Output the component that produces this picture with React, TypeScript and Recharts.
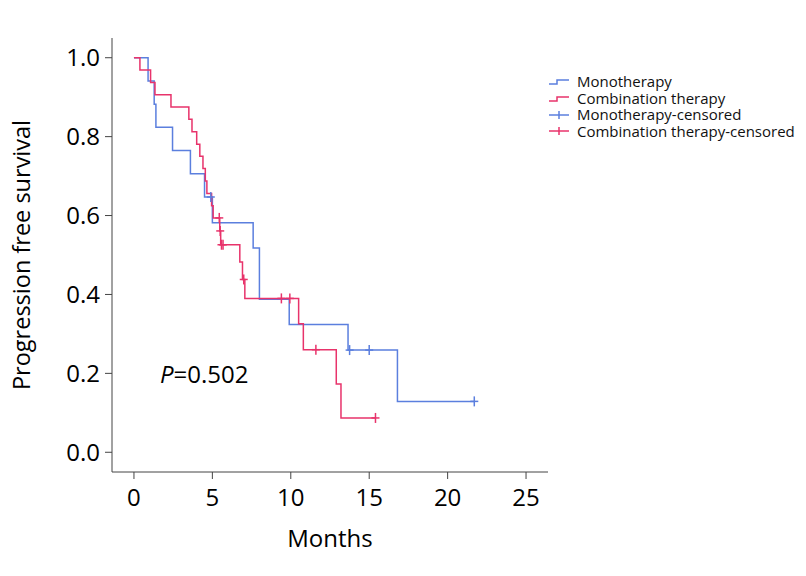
import React from 'react';
import { ComposedChart, Line, Scatter, XAxis, YAxis, Legend } from 'recharts';

// Kaplan-Meier steps (months, survival)
const monoCurve = [
  { t: 0, s: 1 },
  { t: 0.9, s: 0.941 },
  { t: 1.29, s: 0.882 },
  { t: 1.4, s: 0.824 },
  { t: 2.46, s: 0.765 },
  { t: 3.6, s: 0.706 },
  { t: 4.5, s: 0.647 },
  { t: 5.0, s: 0.582 },
  { t: 7.6, s: 0.518 },
  { t: 8.0, s: 0.388 },
  { t: 9.9, s: 0.324 },
  { t: 13.65, s: 0.259 },
  { t: 16.8, s: 0.129 },
  { t: 21.7, s: 0.129 },
];

const comboCurve = [
  { t: 0, s: 1 },
  { t: 0.38, s: 0.969 },
  { t: 1.06, s: 0.9375 },
  { t: 1.34, s: 0.906 },
  { t: 2.36, s: 0.875 },
  { t: 3.5, s: 0.844 },
  { t: 3.7, s: 0.8125 },
  { t: 4.0, s: 0.781 },
  { t: 4.2, s: 0.75 },
  { t: 4.4, s: 0.719 },
  { t: 4.55, s: 0.6875 },
  { t: 4.65, s: 0.656 },
  { t: 4.95, s: 0.625 },
  { t: 5.05, s: 0.594 },
  { t: 5.47, s: 0.561 },
  { t: 5.53, s: 0.526 },
  { t: 6.75, s: 0.482 },
  { t: 6.92, s: 0.438 },
  { t: 7.07, s: 0.39 },
  { t: 10.5, s: 0.326 },
  { t: 10.8, s: 0.26 },
  { t: 12.9, s: 0.173 },
  { t: 13.2, s: 0.087 },
  { t: 15.4, s: 0.087 },
];

const monoCensored = [
  { t: 4.9, s: 0.647 },
  { t: 13.75, s: 0.259 },
  { t: 15.0, s: 0.259 },
  { t: 21.7, s: 0.129 },
];

const comboCensored = [
  { t: 5.44, s: 0.594 },
  { t: 5.5, s: 0.561 },
  { t: 5.58, s: 0.526 },
  { t: 5.68, s: 0.526 },
  { t: 7.0, s: 0.438 },
  { t: 9.4, s: 0.39 },
  { t: 9.94, s: 0.39 },
  { t: 11.6, s: 0.26 },
  { t: 15.4, s: 0.087 },
];

const xTicks = [0, 5, 10, 15, 20, 25];
const yTicks = [0, 0.2, 0.4, 0.6, 0.8, 1.0];
const legendLabels = ['Monotherapy', 'Combination therapy', 'Monotherapy-censored', 'Combination therapy-censored'];
const pValue = '0.502';

const BLUE = '#5b7fde';
const RED = '#e8336b';
const FONT = '"Open Sans", sans-serif';

const censorShape = (color: string) => (props: any) => {
  const { cx, cy } = props;
  return (
    <g stroke={color} strokeWidth={1.5}>
      <line x1={cx - 4} x2={cx + 4} y1={cy} y2={cy} />
      <line x1={cx} x2={cx} y1={cy - 5} y2={cy + 5} />
    </g>
  );
};

const LegendBox = () => {
  const colors = [BLUE, RED, BLUE, RED];
  return (
    <div style={{ fontFamily: FONT, fontSize: 15, lineHeight: '16.7px', color: '#111', fontWeight: 500 }}>
      {legendLabels.map((label, i) => (
        <div key={label} style={{ display: 'flex', alignItems: 'center', whiteSpace: 'nowrap', height: 16.7 }}>
          <svg width={29} height={16} style={{ flex: 'none' }}>
            {i < 2 ? (
              <path d="M1,11 H9 V7 H21" fill="none" stroke={colors[i]} strokeWidth={1.5} />
            ) : (
              <g stroke={colors[i]} strokeWidth={1.5}>
                <line x1={1} x2={21} y1={8} y2={8} />
                <line x1={11} x2={11} y1={4} y2={12} />
              </g>
            )}
          </svg>
          <span>{label}</span>
        </div>
      ))}
    </div>
  );
};

export default function App() {
  return (
    <div style={{ position: 'absolute', left: 0, top: 0, width: 806, height: 576 }}>
      <ComposedChart
        width={806}
        height={576}
        margin={{ top: 38, right: 258, bottom: 24, left: 0 }}
        style={{ fontFamily: FONT }}
      >
        <XAxis
          dataKey="t"
          type="number"
          domain={[-1.4, 26.4]}
          ticks={xTicks}
          allowDataOverflow
          height={80}
          tickSize={7}
          tickMargin={10}
          stroke="#444"
          tick={{ fill: '#000', fontSize: 24, fontWeight: 500 }}
          label={{ value: 'Months', position: 'insideBottom', offset: 5, fill: '#000', fontSize: 24, fontWeight: 500 }}
        />
        <YAxis
          type="number"
          domain={[-0.05, 1.05]}
          ticks={yTicks}
          allowDataOverflow
          width={112}
          tickSize={7}
          tickMargin={5}
          stroke="#444"
          tick={{ fill: '#000', fontSize: 24, fontWeight: 500 }}
          tickFormatter={(v: number) => v.toFixed(1)}
          label={{
            value: 'Progression free survival',
            angle: -90,
            position: 'insideLeft',
            offset: 22,
            fill: '#000',
            fontSize: 23.5,
            fontWeight: 500,
            style: { textAnchor: 'middle' },
          }}
        />
        <Legend
          layout="horizontal"
          verticalAlign="middle"
          align="center"
          content={() => <LegendBox />}
          wrapperStyle={{ left: 548, top: 73, width: 258, height: 70 }}
        />
        <Line
          data={monoCurve}
          dataKey="s"
          type="stepAfter"
          stroke={BLUE}
          strokeWidth={1.5}
          dot={false}
          activeDot={false}
          isAnimationActive={false}
        />
        <Line
          data={comboCurve}
          dataKey="s"
          type="stepAfter"
          stroke={RED}
          strokeWidth={1.5}
          dot={false}
          activeDot={false}
          isAnimationActive={false}
        />
        <Scatter data={monoCensored} dataKey="s" shape={censorShape(BLUE)} isAnimationActive={false} />
        <Scatter data={comboCensored} dataKey="s" shape={censorShape(RED)} isAnimationActive={false} />
      </ComposedChart>
      <div
        style={{
          position: 'absolute',
          left: 160,
          top: 357,
          fontFamily: FONT,
          fontSize: 24,
          fontWeight: 500,
          color: '#000',
          whiteSpace: 'nowrap',
        }}
      >
        <i>P</i>={pValue}
      </div>
    </div>
  );
}
